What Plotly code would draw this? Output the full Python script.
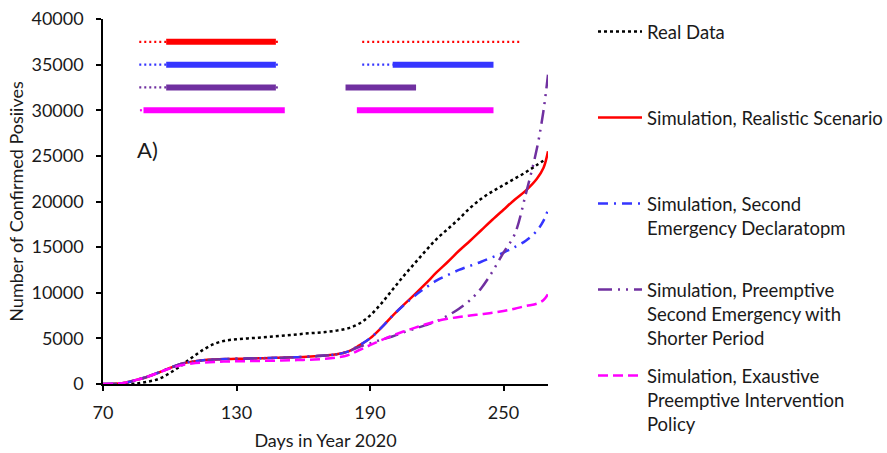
import plotly.graph_objects as go

# ---------------- data ----------------
sim_days = [70, 75, 80, 85, 90, 95, 100, 105, 110, 115, 120, 125, 130, 135, 140, 145, 150,
            155, 160, 165, 170, 175, 180, 185, 190, 195, 200, 205, 210, 215, 220, 225, 230,
            235, 240, 245, 250, 255, 260, 265, 268, 270]

realistic = [0, 20, 150, 450, 800, 1250, 1750, 2200, 2450, 2600, 2680, 2730, 2760, 2790, 2820,
             2850, 2880, 2920, 2970, 3040, 3120, 3250, 3550, 4200, 5000, 6150, 7450, 8650,
             9800, 11000, 12250, 13400, 14600, 15700, 16850, 18000, 19100, 20200, 21200,
             22500, 23700, 25500]

second_emergency = [0, 20, 150, 450, 800, 1250, 1750, 2200, 2450, 2600, 2680, 2730, 2760, 2790,
                    2820, 2850, 2880, 2920, 2970, 3040, 3120, 3250, 3550, 4200, 5000, 6150, 7450,
                    8600, 9650, 10550, 11350, 11950, 12500, 12950, 13400, 13900, 14400, 15000,
                    15700, 16800, 17900, 19100]

preemptive_short = [0, 20, 150, 450, 800, 1250, 1750, 2200, 2450, 2600, 2680, 2730, 2760, 2790,
                    2820, 2850, 2880, 2920, 2970, 3040, 3120, 3250, 3550, 4050, 4450, 4850, 5200,
                    5650, 6050, 6450, 6900, 7500, 8250, 9200, 10500, 12300, 14400, 16400, 20800,
                    25800, 30000, 33900]

exhaustive = [0, 20, 150, 450, 800, 1250, 1700, 2050, 2250, 2350, 2420, 2460, 2490, 2510, 2530,
              2550, 2570, 2600, 2640, 2690, 2760, 2900, 3150, 3700, 4250, 4800, 5300, 5750, 6150,
              6550, 6900, 7150, 7350, 7500, 7650, 7800, 8000, 8250, 8550, 8800, 9200, 9850]

real_days = [80, 85, 90, 95, 100, 105, 110, 115, 120, 125, 130, 135, 140, 145, 150, 155, 160,
             165, 170, 175, 180, 185, 190, 195, 200, 205, 210, 215, 220, 225, 230, 235, 240,
             245, 250, 255, 260, 265, 269]
real_data = [0, 50, 250, 550, 1200, 2000, 2900, 3750, 4400, 4750, 4900, 5000, 5080, 5170, 5270,
             5380, 5500, 5600, 5700, 5850, 6100, 6600, 7500, 8800, 10300, 11800, 13200, 14600,
             15900, 17000, 18100, 19300, 20300, 21100, 21800, 22500, 23200, 24000, 24650]

# intervention periods (days) shown at the top of the chart
period_levels = [37500, 35000, 32500, 30000]
realistic_solid = [[98.4, 147.7]]
realistic_dotted = [[86.3, 98.4], [147.7, 149.6], [186.5, 257.9]]
second_solid = [[98.4, 147.7], [200.2, 245.5]]
second_dotted = [[86.3, 98.4], [147.7, 149.6], [186.5, 200.2]]
preemptive_solid = [[98.4, 147.7], [179.0, 210.7]]
preemptive_dotted = [[86.3, 98.4], [147.7, 149.6]]
exhaustive_solid = [[88.2, 151.7], [184.1, 245.5]]
exhaustive_dotted = [[86.6, 88.2]]

x_ticks = [70, 130, 190, 250]
y_ticks = [0, 5000, 10000, 15000, 20000, 25000, 30000, 35000, 40000]

names = ["Real Data",
         "Simulation, Realistic Scenario",
         "Simulation, Second<br>Emergency Declaratopm",
         "Simulation, Preemptive<br>Second Emergency with<br>Shorter Period",
         "Simulation, Exaustive<br>Preemptive Intervention<br>Policy"]

# ---------------- figure ----------------
FONT = "Lato"
TXT = "#1a1a1a"
RED = "#FF0000"
BLUE = "#3535FF"
PURPLE = "#7030A0"
MAGENTA = "#FF00FF"

fig = go.Figure()

legend_ids = ["legend", "legend2", "legend3", "legend4", "legend5"]

fig.add_trace(go.Scatter(x=real_days, y=real_data, mode="lines", name=names[0],
                         line=dict(color="#000000", width=2.5, dash="dot", shape="spline"),
                         legend=legend_ids[0]))
fig.add_trace(go.Scatter(x=sim_days, y=realistic, mode="lines", name=names[1],
                         line=dict(color=RED, width=2.5, shape="spline"),
                         legend=legend_ids[1]))
fig.add_trace(go.Scatter(x=sim_days, y=second_emergency, mode="lines", name=names[2],
                         line=dict(color=BLUE, width=2.5, dash="10px,6px,2px,6px", shape="spline"),
                         legend=legend_ids[2]))
fig.add_trace(go.Scatter(x=sim_days, y=preemptive_short, mode="lines", name=names[3],
                         line=dict(color=PURPLE, width=2.5, dash="14px,6px,2px,6px,2px,6px",
                                   shape="spline"),
                         legend=legend_ids[3]))
fig.add_trace(go.Scatter(x=sim_days, y=exhaustive, mode="lines", name=names[4],
                         line=dict(color=MAGENTA, width=2.5, dash="10px,5px", shape="spline"),
                         legend=legend_ids[4]))


def seg_xy(periods, level):
    xs, ys = [], []
    for a, b in periods:
        xs += [a, b, None]
        ys += [level, level, None]
    return xs, ys


period_sets = [(realistic_solid, realistic_dotted, RED),
               (second_solid, second_dotted, BLUE),
               (preemptive_solid, preemptive_dotted, PURPLE),
               (exhaustive_solid, exhaustive_dotted, MAGENTA)]
for (solid, dotted, col), lvl in zip(period_sets, period_levels):
    xs, ys = seg_xy(dotted, lvl)
    fig.add_trace(go.Scatter(x=xs, y=ys, mode="lines", showlegend=False, hoverinfo="skip",
                             line=dict(color=col, width=2.2, dash="2px,3px")))
    xs, ys = seg_xy(solid, lvl)
    fig.add_trace(go.Scatter(x=xs, y=ys, mode="lines", showlegend=False, hoverinfo="skip",
                             line=dict(color=col, width=6)))

fig.add_annotation(x=84.5, y=25700, xref="x", yref="y", text="A)", showarrow=False,
                   xanchor="left", yanchor="middle", font=dict(family=FONT, size=22, color=TXT))

# target axes box in pixels: x 103..548, y 19..384
W, H = 887, 453
AX_L, AX_R, AX_T, AX_B = 103, 548, 19, 384
M_L, M_R, M_T, M_B = 103, 2, 2, H - AX_B
PA_W = W - M_L - M_R
PA_H = H - M_T - M_B


def px_to_paper_x(px):
    return (px - M_L) / PA_W


def py_to_paper_y(py):
    return (H - M_B - py) / PA_H


legend_first_line_px = [32, 118, 204, 290, 376]
legend_layout = {}
for lid, py in zip(legend_ids, legend_first_line_px):
    legend_layout[lid] = dict(
        x=px_to_paper_x(593), xanchor="left",
        y=py_to_paper_y(py - 19), yanchor="top",
        bgcolor="rgba(0,0,0,0)", borderwidth=0,
        font=dict(family=FONT, size=18.5, color=TXT),
        itemwidth=44, valign="top", tracegroupgap=0,
    )

fig.update_layout(
    width=W, height=H,
    margin=dict(l=M_L, r=M_R, t=M_T, b=M_B, autoexpand=False),
    paper_bgcolor="white", plot_bgcolor="white",
    font=dict(family=FONT, size=17, color=TXT),
    **legend_layout,
)

fig.update_xaxes(range=[70, 270], tickvals=x_ticks, ticktext=[str(v) for v in x_ticks],
                 domain=[0, px_to_paper_x(AX_R)], automargin=False,
                 showgrid=False, zeroline=False, showline=True, linecolor="#000000",
                 linewidth=1.5, ticks="outside", ticklen=5, tickwidth=1.5, tickcolor="#000000",
                 ticklabelstandoff=7,
                 tickfont=dict(family=FONT, size=18, color=TXT),
                 title=dict(text="Days in Year 2020", font=dict(family=FONT, size=18, color=TXT),
                            standoff=12))
fig.update_yaxes(range=[0, 40000], tickvals=y_ticks, ticktext=[str(v) for v in y_ticks],
                 domain=[0, py_to_paper_y(AX_T)], automargin=False,
                 showgrid=False, zeroline=False, showline=True, linecolor="#000000",
                 linewidth=1.5, ticks="outside", ticklen=5, tickwidth=1.5, tickcolor="#000000",
                 ticklabelstandoff=9,
                 tickfont=dict(family=FONT, size=18, color=TXT),
                 title=dict(text="Number of Confirmed Posiives",
                            font=dict(family=FONT, size=18, color=TXT), standoff=3))

fig.write_html("out.html", config={"displayModeBar": False},
               post_script="document.body.style.margin='0px';")
